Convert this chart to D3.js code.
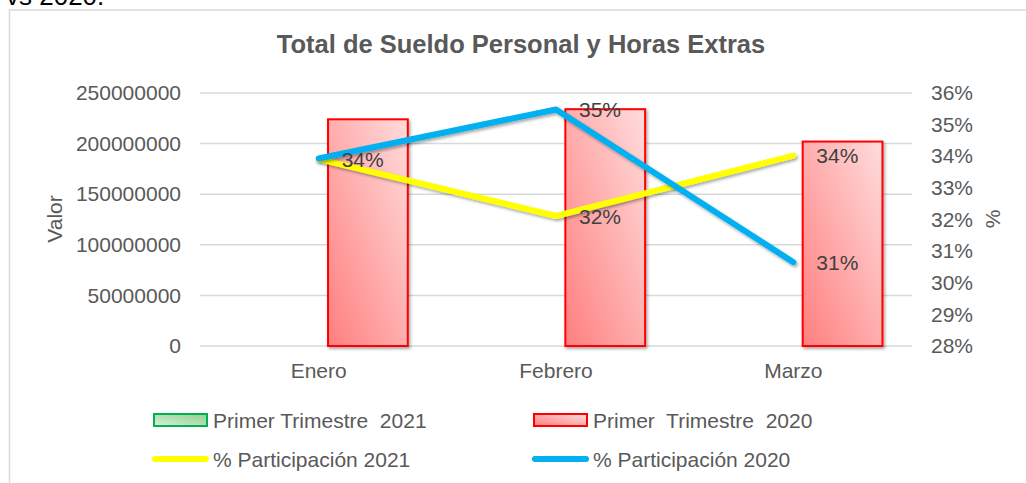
<!DOCTYPE html>
<html>
<head>
<meta charset="utf-8">
<script src="https://cdn.jsdelivr.net/npm/d3@7"></script>
<style>
  html, body { margin: 0; padding: 0; background: #fff; overflow: hidden; }
  svg { display: block; }
  text { font-family: "Liberation Sans", Arial, sans-serif; }
</style>
</head>
<body>
<svg></svg>
<script>
// data
const meses = ["Enero", "Febrero", "Marzo"];
const series = ["Primer Trimestre  2021", "Primer  Trimestre  2020"];
const sueldo2021 = [null, null, null];   // no bars drawn for 2021
const sueldo2020 = [224000000, 234000000, 202000000];
const part2021 = [0.3391, 0.3211, 0.3402];
const part2020 = [0.3393, 0.3548, 0.3065];
const lineNames = ["% Participación 2021", "% Participación 2020"];
const valorTicks = [0, 50000000, 100000000, 150000000, 200000000, 250000000];
const pctTicks = [0.28, 0.29, 0.30, 0.31, 0.32, 0.33, 0.34, 0.35, 0.36];

var w = 1026;
var h = 483;
const margin = { top: 93, bottom: 137, left: 200, right: 114 };
const innerWidth = w - margin.left - margin.right;
const innerHeight = h - margin.top - margin.bottom;
const gray = "#595959";

let svg = d3.select("svg")
  .attr("width", w)
  .attr("height", h);

// gradients + shadow
const defs = svg.append("defs");
function grad(id, c1, c2) {
  let gr = defs.append("linearGradient").attr("id", id)
    .attr("x1", 0).attr("y1", 1).attr("x2", 1).attr("y2", 0);
  gr.append("stop").attr("offset", "0%").attr("stop-color", c1);
  gr.append("stop").attr("offset", "100%").attr("stop-color", c2);
}
grad("gRed", "#ff7f7f", "#ffdcdc");
grad("gGreen", "#d6efd6", "#8fd08f");
defs.append("filter").attr("id", "shadow")
  .attr("x", "-20%").attr("y", "-20%").attr("width", "140%").attr("height", "140%")
  .append("feDropShadow")
  .attr("dx", 1.5).attr("dy", 2).attr("stdDeviation", 1.5)
  .attr("flood-color", "#000").attr("flood-opacity", 0.35);

// text cut off at the top of the page + chart frame (only top and left edges are in view)
svg.append("text").attr("x", 6).attr("y", 5)
  .style("font-size", "26px").attr("fill", "#000").text("vs 2020.");
svg.append("path")
  .attr("d", `M9.5,${h} V10 H${w}`)
  .attr("fill", "none").attr("stroke", "#d9d9d9").attr("stroke-width", 1.5);

svg.append("text")
  .attr("x", 521).attr("y", 53)
  .attr("text-anchor", "middle")
  .style("font-size", "25.5px").style("font-weight", "bold")
  .attr("fill", gray)
  .text("Total de Sueldo Personal y Horas Extras");

const g = svg.append("g")
  .attr("transform", `translate(${margin.left}, ${margin.top})`);

let x0 = d3.scaleBand().domain(meses).range([0, innerWidth]);
let x1 = d3.scaleBand().domain(series).range([0, x0.bandwidth()])
  .paddingInner(0.19).paddingOuter(0.3);
let yL = d3.scaleLinear().domain([0, 250000000]).range([innerHeight, 0]);
let yR = d3.scaleLinear().domain([0.28, 0.36]).range([innerHeight, 0]);

// gridlines
g.selectAll(".grid").data(valorTicks).enter().append("line")
  .attr("x1", 0).attr("x2", innerWidth)
  .attr("y1", d => yL(d)).attr("y2", d => yL(d))
  .attr("stroke", "#d9d9d9").attr("stroke-width", 1.5);

// axes
let leftAxis = g.append("g")
  .call(d3.axisLeft(yL).tickValues(valorTicks).tickFormat(d3.format("d")).tickSize(0).tickPadding(19));
let rightAxis = g.append("g")
  .attr("transform", `translate(${innerWidth},0)`)
  .call(d3.axisRight(yR).tickValues(pctTicks).tickFormat(d3.format(".0%")).tickSize(0).tickPadding(19));
let bottomAxis = g.append("g")
  .attr("transform", `translate(0,${innerHeight})`)
  .call(d3.axisBottom(x0).tickSize(0).tickPadding(17));
[leftAxis, rightAxis, bottomAxis].forEach(a => {
  a.select(".domain").remove();
  a.selectAll("text").style("font-size", "21px").attr("fill", gray)
    .style("font-family", "'Liberation Sans', Arial, sans-serif");
});

// bars
const barData = [];
meses.forEach((m, i) => {
  if (sueldo2021[i] != null) barData.push({ mes: m, serie: series[0], v: sueldo2021[i], fill: "url(#gGreen)", stroke: "#00b050" });
  if (sueldo2020[i] != null) barData.push({ mes: m, serie: series[1], v: sueldo2020[i], fill: "url(#gRed)", stroke: "#ff0000" });
});
g.selectAll(".bar").data(barData).enter().append("rect")
  .attr("x", d => x0(d.mes) + x1(d.serie))
  .attr("y", d => yL(d.v))
  .attr("width", x1.bandwidth())
  .attr("height", d => innerHeight - yL(d.v))
  .attr("fill", d => d.fill)
  .attr("stroke", d => d.stroke)
  .attr("stroke-width", 2)
  .attr("filter", "url(#shadow)");

// lines
const cx = d => x0(d) + x0.bandwidth() / 2;
let line = d3.line().x(d => cx(d.mes)).y(d => yR(d.v));
const lineSets = [
  { vals: part2021, color: "#ffff00" },
  { vals: part2020, color: "#00b0f0" }
];
lineSets.forEach(s => {
  let pts = meses.map((m, i) => ({ mes: m, v: s.vals[i] }));
  s.pts = pts;
  g.append("path").datum(pts)
    .attr("d", line)
    .attr("fill", "none")
    .attr("stroke", s.color)
    .attr("stroke-width", 6)
    .attr("stroke-linecap", "round")
    .attr("stroke-linejoin", "round")
    .attr("filter", "url(#shadow)");
});

// data labels (a label sitting on top of an identical one is drawn once)
const fmtPct = d3.format(".0%");
let placed = [];
lineSets.forEach(s => {
  s.pts.forEach(d => {
    let txt = fmtPct(d.v);
    let x = cx(d.mes) + 23, y = yR(d.v);
    if (placed.some(p => p.txt == txt && Math.abs(p.x - x) < 2 && Math.abs(p.y - y) < 4)) return;
    placed.push({ txt: txt, x: x, y: y });
    g.append("text")
      .attr("x", x).attr("y", y)
      .attr("dy", "0.36em")
      .style("font-size", "21px")
      .attr("fill", "#404040")
      .text(txt);
  });
});

// axis titles
svg.append("text")
  .attr("transform", "translate(62,219)rotate(-90)")
  .attr("text-anchor", "middle")
  .style("font-size", "21px").attr("fill", gray)
  .text("Valor");
svg.append("text")
  .attr("transform", "translate(1000,219)rotate(-90)")
  .attr("text-anchor", "middle")
  .style("font-size", "21px").attr("fill", gray)
  .text("%");

// legend
const legend = svg.append("g");
const legItems = [
  { x: 154, y: 420, type: "rect", fill: "url(#gGreen)", stroke: "#00b050", label: series[0] },
  { x: 534, y: 420, type: "rect", fill: "url(#gRed)", stroke: "#ff0000", label: series[1] },
  { x: 154, y: 459, type: "line", stroke: "#ffff00", label: lineNames[0] },
  { x: 534, y: 459, type: "line", stroke: "#00b0f0", label: lineNames[1] }
];
legItems.forEach(it => {
  if (it.type == "rect") {
    legend.append("rect")
      .attr("x", it.x).attr("y", it.y - 6)
      .attr("width", 53).attr("height", 12)
      .attr("fill", it.fill).attr("stroke", it.stroke).attr("stroke-width", 2);
  } else {
    legend.append("line")
      .attr("x1", it.x + 1).attr("x2", it.x + 52)
      .attr("y1", it.y).attr("y2", it.y)
      .attr("stroke", it.stroke).attr("stroke-width", 6)
      .attr("stroke-linecap", "round");
  }
  legend.append("text")
    .attr("x", it.x + 59).attr("y", it.y + 7.5)
    .style("font-size", "21px").attr("fill", gray)
    .style("white-space", "pre")
    .attr("xml:space", "preserve")
    .text(it.label);
});
</script>
</body>
</html>
